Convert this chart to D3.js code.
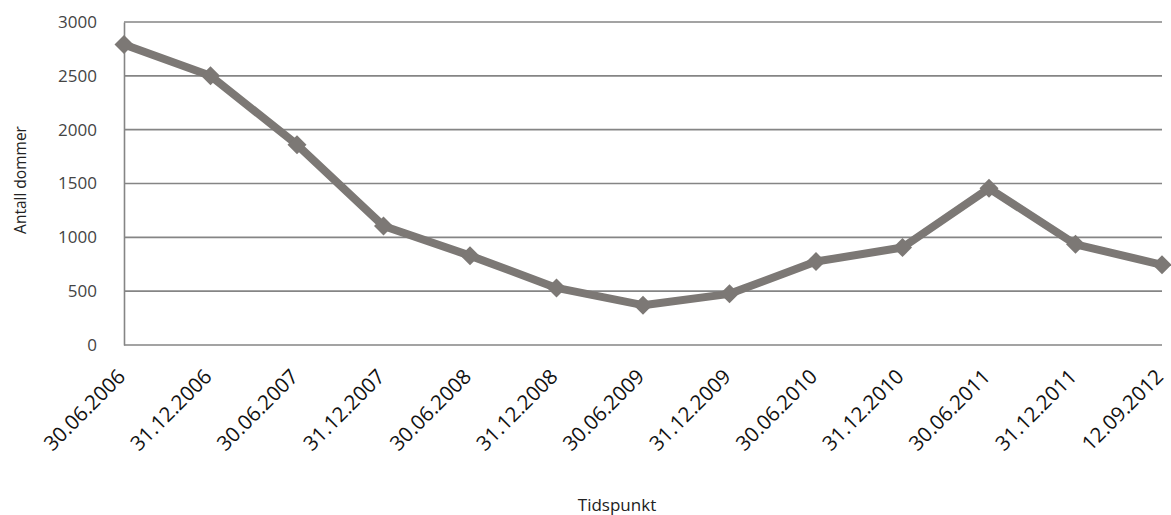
<!DOCTYPE html>
<html>
<head>
<meta charset="utf-8">
<script src="https://cdn.jsdelivr.net/npm/d3@7"></script>
<style>
  body { margin: 0; background: #fff; }
  svg { display: block; }
</style>
</head>
<body>
<div id="chart"></div>
<script>
// Data
const dates = ["30.06.2006", "31.12.2006", "30.06.2007", "31.12.2007", "30.06.2008",
               "31.12.2008", "30.06.2009", "31.12.2009", "30.06.2010", "31.12.2010",
               "30.06.2011", "31.12.2011", "12.09.2012"];
const counts = [2790, 2500, 1860, 1105, 830, 530, 370, 475, 775, 905, 1455, 935, 745];
const yTicks = [0, 500, 1000, 1500, 2000, 2500, 3000];

const data = dates.map((d, i) => ({date: d, value: counts[i]}));

// Dimensions
const W = 1171, H = 515;
const margin = {top: 22, right: 9, bottom: 170, left: 124};
const width = W - margin.left - margin.right,
      height = H - margin.top - margin.bottom;

const svg = d3.select("#chart")
              .append("svg")
              .attr("width", W)
              .attr("height", H)
              .append("g")
              .attr("transform", `translate(${margin.left},${margin.top})`);

// Scales
const xScale = d3.scalePoint()
                 .domain(dates)
                 .range([0, width]);

const yScale = d3.scaleLinear()
                 .domain([0, 3000])
                 .range([height, 0]);

// Horizontal gridlines
svg.append("g")
   .selectAll("line")
   .data(yTicks)
   .enter()
   .append("line")
   .attr("x1", 0)
   .attr("x2", width)
   .attr("y1", d => yScale(d))
   .attr("y2", d => yScale(d))
   .attr("stroke", "#858585")
   .attr("stroke-width", 1.6);

// Y axis (vertical line + labels)
const yAxis = svg.append("g")
   .call(d3.axisLeft(yScale).tickValues(yTicks).tickFormat(d3.format("d"))
           .tickSize(0).tickPadding(27));
yAxis.select(".domain").attr("stroke", "#858585").attr("stroke-width", 1.6);
yAxis.selectAll("text")
     .style("font-family", "Open Sans, sans-serif")
     .style("font-size", "17px")
     .attr("fill", "#444");

// X axis labels, rotated
const xAxis = svg.append("g")
   .attr("transform", `translate(0, ${height})`)
   .call(d3.axisBottom(xScale).tickSize(0).tickPadding(0));
xAxis.select(".domain").remove();
xAxis.selectAll("text")
     .attr("transform", "translate(2, 33) rotate(-45)")
     .attr("dy", 0)
     .attr("y", 0)
     .style("text-anchor", "end")
     .style("font-family", "Open Sans, sans-serif")
     .style("font-size", "20.5px")
     .attr("fill", "#111");

// Axis titles
svg.append("text")
   .attr("x", 617 - margin.left)
   .attr("y", 511 - margin.top)
   .attr("text-anchor", "middle")
   .style("font-family", "Open Sans, sans-serif")
   .style("font-size", "17px")
   .attr("fill", "#222")
   .text("Tidspunkt");

svg.append("text")
   .attr("transform", "rotate(-90)")
   .attr("x", -(180 - margin.top))
   .attr("y", -(margin.left - 26))
   .attr("text-anchor", "middle")
   .style("font-family", "Open Sans, sans-serif")
   .style("font-size", "15.5px")
   .attr("fill", "#222")
   .text("Antall dommer");

// The line
const line = d3.line()
               .x(d => xScale(d.date))
               .y(d => yScale(d.value));

svg.append("path")
   .datum(data)
   .attr("fill", "none")
   .attr("stroke", "#7c7875")
   .attr("stroke-width", 8)
   .attr("stroke-linejoin", "round")
   .attr("d", line);

// Diamond markers
svg.selectAll(".dot")
   .data(data)
   .enter()
   .append("path")
   .attr("class", "dot")
   .attr("transform", d => `translate(${xScale(d.date)},${yScale(d.value)})`)
   .attr("d", d3.symbol().type(d3.symbolDiamond2).size(230))
   .attr("fill", "#7c7875");
</script>
</body>
</html>
